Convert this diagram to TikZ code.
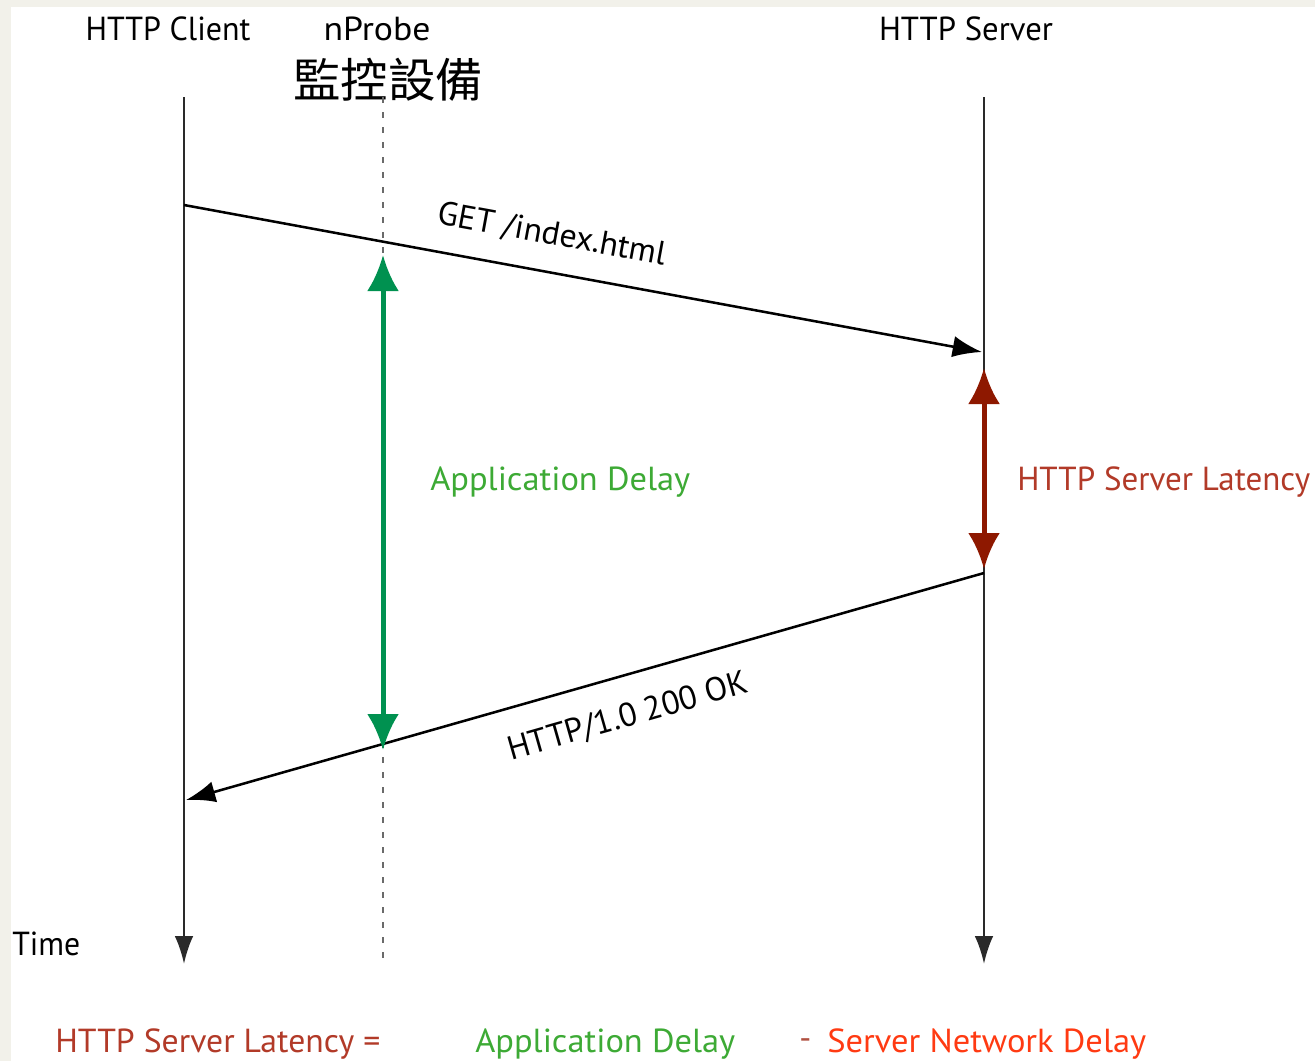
\documentclass[tikz,border=0pt]{standalone}
\usepackage{fontspec}
\usepackage{graphicx}
\setmainfont{PT Sans}
\newfontfamily\cjkfont{Noto Sans CJK TC}
\usetikzlibrary{arrows.meta}

% set a text at its natural height, stretched or squeezed to a given width (in px units)
\newcommand\txtw[2]{\setbox0=\hbox{#2}\pgfmathsetmacro\txtsx{#1*0.75/\the\wd0}\scalebox{\txtsx}[1]{\box0}}

\definecolor{bgbeige}{HTML}{F2F1EA}
\definecolor{lifeline}{HTML}{2A2A2A}
\definecolor{probegray}{HTML}{6A6A6A}
\definecolor{appgreen}{HTML}{009150}
\definecolor{apptext}{HTML}{3DAA35}
\definecolor{latred}{HTML}{8E1800}
\definecolor{lattext}{HTML}{B23A28}
\definecolor{netred}{HTML}{FF3A12}
\definecolor{minusbrown}{HTML}{B05040}

\tikzset{
  lbl/.style={inner sep=0pt, font=\fontsize{25}{30}\selectfont},
  lifelinearrow/.style={draw=lifeline, line width=1.9pt, -{Latex[length=21pt,width=14pt]}},
  probeline/.style={draw=probegray, line width=1.7pt, dash pattern=on 4.5pt off 6.75pt},
  msgarrow/.style={draw=black, line width=1.9pt, -{Latex[length=22pt,width=16pt]}},
  delayarrow/.style={line width=3.75pt, {Latex[length=27pt,width=24pt]}-{Latex[length=27pt,width=24pt]}}
}

\begin{document}
\begin{tikzpicture}[x=0.75pt, y=-0.75pt]
  % canvas and page frame
  \fill[bgbeige] (0,0) rectangle (1315,1061);
  \fill[white] (11,7) rectangle (1315,1061);
  \useasboundingbox (0,0) rectangle (1315,1061);

  % headers
  \node[lbl] (client) at (168,29) {\txtw{165}{HTTP Client}};
  \node[lbl] (probe) at (377,29) {\txtw{107}{nProbe}};
  \node[lbl] (server) at (966,29) {\txtw{174}{HTTP Server}};
  \node[inner sep=0pt, font=\cjkfont\fontsize{35}{40}\selectfont] (monitor) at (388,80) {\txtw{190}{監控設備}};

  % lifelines
  \coordinate (clientTop) at (184,97);
  \coordinate (clientEnd) at (184,964);
  \coordinate (probeTop) at (383,97);
  \coordinate (probeEnd) at (383,960);
  \coordinate (serverTop) at (984,97);
  \coordinate (serverEnd) at (984,964);
  \draw[lifelinearrow] (clientTop) -- (clientEnd);
  \draw[probeline] (probeTop) -- (probeEnd);
  \draw[lifelinearrow] (serverTop) -- (serverEnd);
  \node[lbl, anchor=west] (time) at (12,944) {\txtw{68}{Time}};

  % request and response
  \coordinate (getStart) at (184,205);
  \coordinate (getEnd) at (982,352);
  \draw[msgarrow] (getStart) -- (getEnd);
  \node[lbl, rotate=-10.4] (getlbl) at (552,235) {\txtw{232}{GET /index.html}};

  \coordinate (okStart) at (984,573);
  \coordinate (okEnd) at (186,800);
  \draw[msgarrow] (okStart) -- (okEnd);
  \node[lbl, rotate=15.9] (oklbl) at (628,717) {\txtw{248}{HTTP/1.0 200 OK}};

  % measured intervals
  \coordinate (appTop) at (383,255);
  \coordinate (appBot) at (383,750);
  \draw[delayarrow, draw=appgreen, fill=appgreen] (appTop) -- (appBot);
  \node[lbl, text=apptext, anchor=west] (applbl) at (430,482) {\txtw{260}{Application Delay}};

  \coordinate (latTop) at (984,368);
  \coordinate (latBot) at (984,569);
  \draw[delayarrow, draw=latred, fill=latred] (latTop) -- (latBot);
  \node[lbl, text=lattext, anchor=west] (latlbl) at (1017,482) {\txtw{293}{HTTP Server Latency}};

  % formula
  \node[lbl, text=lattext, anchor=west] (eqlat) at (55,1044) {\txtw{325}{HTTP Server Latency =}};
  \node[lbl, text=apptext, anchor=west] (eqapp) at (475,1044) {\txtw{260}{Application Delay}};
  \node[lbl, text=minusbrown, anchor=west] (eqminus) at (799,1044) {-};
  \node[lbl, text=netred, anchor=west] (eqnet) at (827,1044) {\txtw{319}{Server Network Delay}};
\end{tikzpicture}
\end{document}
